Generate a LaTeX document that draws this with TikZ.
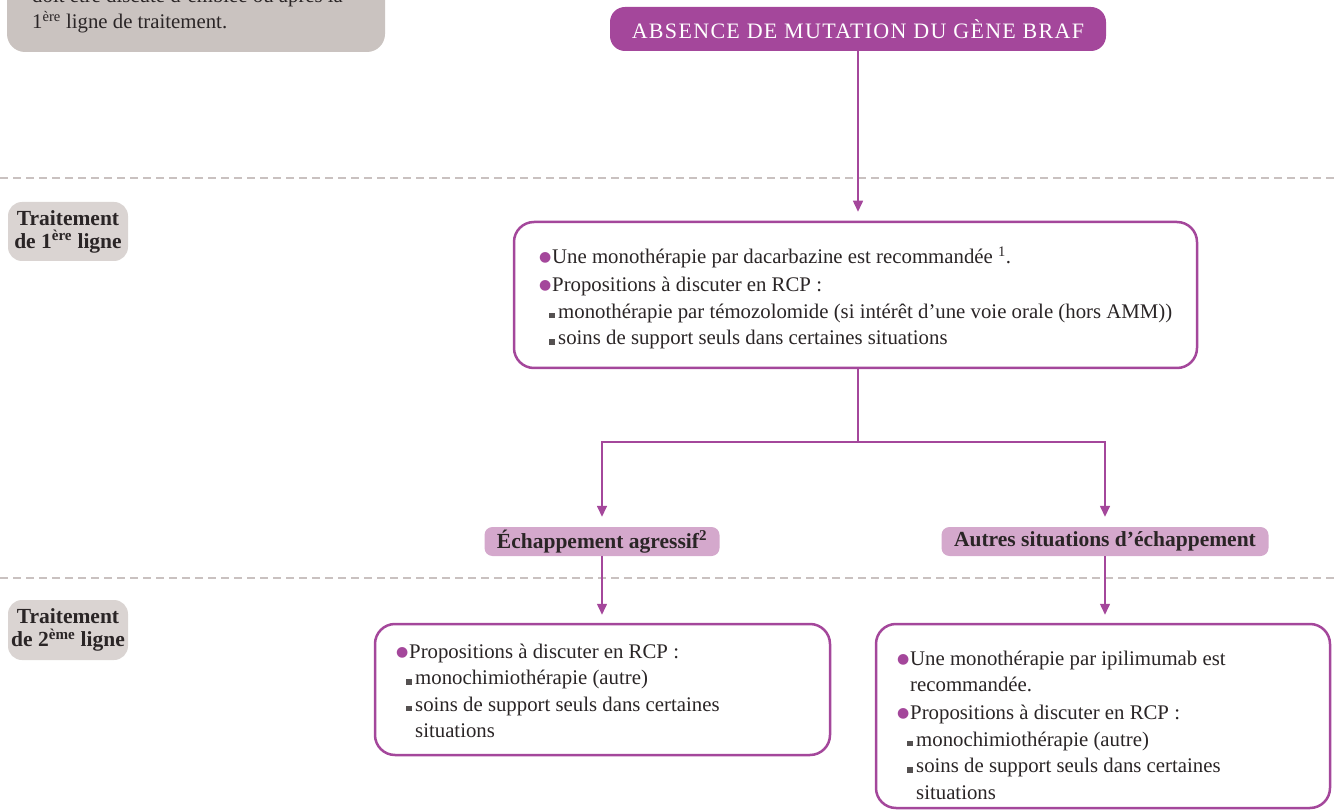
\documentclass[tikz,border=0pt]{standalone}
\usepackage{fontspec}
\setmainfont{Liberation Serif}
\newfontfamily\dvsym{DejaVu Sans}
\usetikzlibrary{arrows.meta}
\definecolor{purp}{HTML}{A4479B}
\definecolor{lpurp}{HTML}{D4A8CC}
\definecolor{gbox}{HTML}{CAC3C0}
\definecolor{glab}{HTML}{DAD4D2}
\definecolor{dashc}{HTML}{C9C1C0}
\definecolor{txt}{HTML}{2A2526}
\newcommand\pbul{\makebox[11pt][l]{\hspace*{-2pt}\textcolor{purp}{\raisebox{2pt}{\dvsym\fontsize{14}{14}\selectfont ●}}}}
\newcommand\psq{\hspace*{8pt}\makebox[9pt][l]{\textcolor{txt!80}{\rule{5.5pt}{5.5pt}}}}
\newcommand\pcont{\hspace*{17pt}}
\tikzset{
 box/.style={draw=purp, line width=2.5pt, rounded corners=20pt, fill=white, inner sep=0},
 lab/.style={fill=glab, rounded corners=14pt, font=\bfseries\fontsize{21.5}{23}\selectfont, align=center, text=txt, inner sep=0},
 pill/.style={fill=lpurp, rounded corners=8pt, font=\bfseries\fontsize{21.5}{24}\selectfont, text=txt, inner sep=0, minimum height=29pt},
 conn/.style={draw=purp, line width=1.5pt},
 arr/.style={conn, -{Triangle[length=11pt,width=10pt]}},
 sep/.style={draw=dashc, line width=2.5pt, dash pattern=on 8pt off 5pt},
 body/.style={anchor=base west, inner sep=0, text=txt, font=\fontsize{20.8}{26.5}\selectfont},
}
\begin{document}
\begin{tikzpicture}[x=1pt,y=-1pt]
\useasboundingbox (0,0) rectangle (1334,810);
\begin{scope}
\clip (0,0) rectangle (1334,810);
% separators
\draw[sep] (0,178) -- (1334,178);
\draw[sep] (0,578) -- (1334,578);
% top-left note
\node[fill=gbox, rounded corners=18pt, minimum width=378pt, minimum height=110pt, inner sep=0] (note) at (196,-3) {};
\node[anchor=base west, inner sep=0, text=txt, font=\fontsize{20.8}{26}\selectfont] (notetxt) at (32,29) {\parbox[b]{360pt}{doit être discuté d’emblée ou après la\\1\textsuperscript{ère} ligne de traitement.}};
% header
\node[fill=purp, rounded corners=15pt, minimum width=496pt, minimum height=44pt, text=white, font=\fontsize{22}{24}\selectfont\addfontfeatures{LetterSpace=6}, inner sep=0] (top) at (858,29) {ABSENCE DE MUTATION DU GÈNE BRAF};
% left labels
\node[lab, minimum width=120pt, minimum height=59pt] (l1) at (68,231.5) {Traitement\\de 1\textsuperscript{ère} ligne};
\node[lab, minimum width=120pt, minimum height=60pt] (l2) at (68,630) {Traitement\\de 2\textsuperscript{ème} ligne};
% boxes
\node[box, minimum width=683pt, minimum height=146pt] (b1) at (855.5,295) {};
\node[box, minimum width=455pt, minimum height=131pt] (b2) at (602.5,689.5) {};
\node[box, minimum width=454pt, minimum height=184pt] (b3) at (1103,716) {};
\node[body] (t1) at (541,264) {\parbox[t]{660pt}{\pbul Une monothérapie par dacarbazine est recommandée \textsuperscript{1}.\\[1.5pt]
\pbul Propositions à discuter en RCP :\\
\psq monothérapie par témozolomide (si intérêt d’une voie orale (hors AMM))\\
\psq soins de support seuls dans certaines situations}};
\node[body] (t2) at (398,658) {\parbox[t]{420pt}{\pbul Propositions à discuter en RCP :\\
\psq monochimiothérapie (autre)\\
\psq soins de support seuls dans certaines\\
\pcont situations}};
\node[body] (t3) at (899,665) {\parbox[t]{420pt}{\pbul Une monothérapie par ipilimumab est\\
\hspace*{11pt}recommandée.\\[1.5pt]
\pbul Propositions à discuter en RCP :\\
\psq monochimiothérapie (autre)\\
\psq soins de support seuls dans certaines\\
\pcont situations}};
% pills
\node[pill, minimum width=235pt] (p1) at (602,541.5) {Échappement agressif\textsuperscript{2}};
\node[pill, minimum width=327pt] (p2) at (1105,541.5) {Autres situations d’échappement};
% connectors
\coordinate (split) at (858,442);
\draw[arr, shorten >=9pt] (top.south) -- (top.south |- b1.north);
\draw[conn] (split |- b1.south) -- (split);
\draw[arr, shorten >=10pt] (split) -| (p1.north);
\draw[arr, shorten >=10pt] (split) -| (p2.north);
\draw[arr, shorten >=8pt] (p1.south) -- (p1.south |- b2.north);
\draw[arr, shorten >=8pt] (p2.south) -- (p2.south |- b3.north);
\end{scope}
\end{tikzpicture}
\end{document}
